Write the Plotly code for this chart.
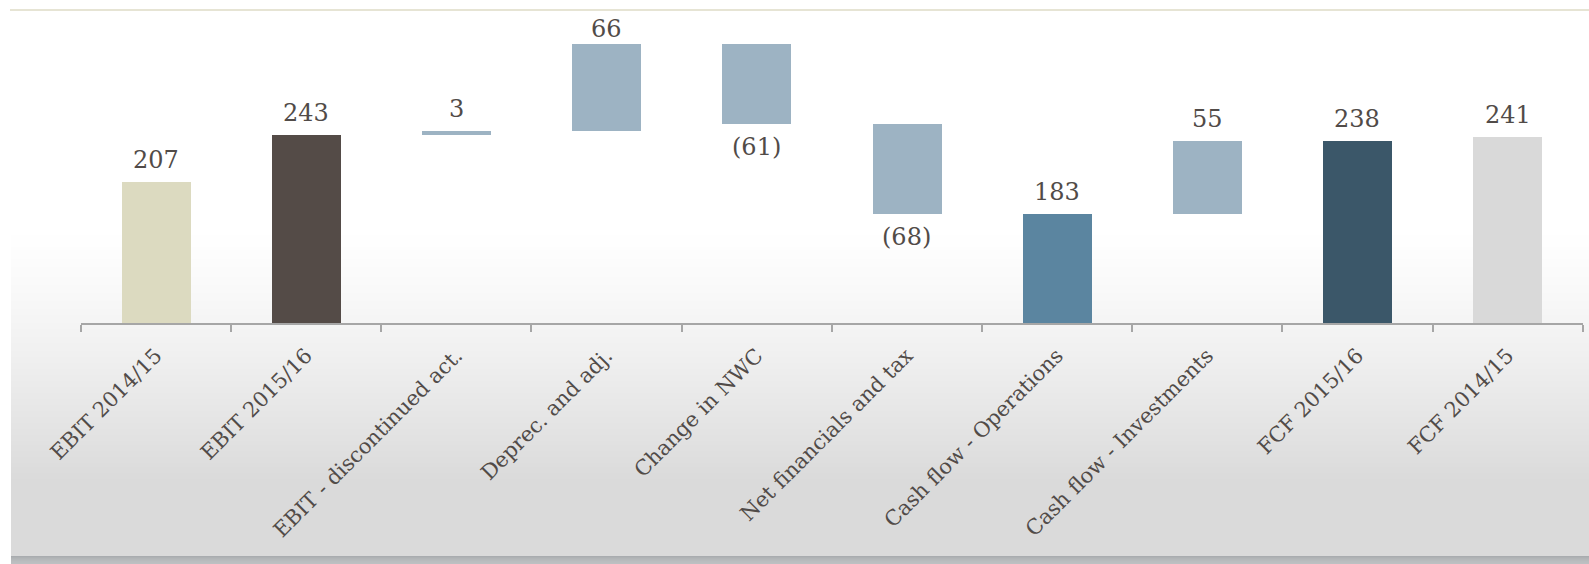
import plotly.graph_objects as go

# Cash-flow bridge: totals start at the axis floor, deltas float on the running level
categories = [
    "EBIT 2014/15",
    "EBIT 2015/16",
    "EBIT - discontinued act.",
    "Deprec. and adj.",
    "Change in NWC",
    "Net financials and tax",
    "Cash flow - Operations",
    "Cash flow - Investments",
    "FCF 2015/16",
    "FCF 2014/15",
]
values = [207, 243, 3, 66, -61, -68, 183, 55, 238, 241]
kinds = ["total", "total", "delta", "delta", "delta", "delta",
         "total", "delta", "total", "total"]
colors = ["#dcdac0", "#544b47", "#9db3c3", "#9db3c3", "#9db3c3", "#9db3c3",
          "#5b85a0", "#9db3c3", "#3b5769", "#d9d9d9"]

W, H = 1589, 564
Y_MIN, Y_MAX = 100, 337.7
PLOT_TOP, PLOT_BOTTOM = 10, 323
PX_PER_UNIT = (PLOT_BOTTOM - PLOT_TOP) / (Y_MAX - Y_MIN)
TEXT = "#514b48"
FONT = "DejaVu Serif"

bases, level = [], 0
for v, k in zip(values, kinds):
    if k == "total":
        bases.append(0)
        level = v
    else:
        bases.append(level)
        level += v

labels = [str(v) if v >= 0 else f"({abs(v)})" for v in values]

fig = go.Figure(
    go.Bar(
        x=categories,
        y=values,
        base=bases,
        width=0.46,
        marker=dict(color=colors, line=dict(width=0)),
        hoverinfo="skip",
    )
)

# value labels above the end of rising bars, below the end of falling bars;
# labels near the top are pulled down so they stay inside the panel
annotations = []
for cat, v, b, lab in zip(categories, values, bases, labels):
    end = b + v
    end_px = PLOT_TOP + (Y_MAX - end) * PX_PER_UNIT
    shift = min(6, end_px - 45) if v >= 0 else -7
    annotations.append(dict(
        x=cat, y=end, xref="x", yref="y", text=lab, showarrow=False,
        yanchor="bottom" if v >= 0 else "top",
        yshift=shift,
        font=dict(family=FONT, size=24, color=TEXT),
    ))

# panel background: white top fading to light grey, darker strip at the bottom
shapes = []
x0 = 11 / W
g0, g1 = 225, 480
shapes.append(dict(type="rect", xref="paper", yref="paper", x0=x0, x1=1,
                   y0=(H - g0) / H, y1=(H - PLOT_TOP) / H,
                   fillcolor="#ffffff", line=dict(width=0), layer="below"))
step = 2
for py in range(g0, g1, step):
    t = (py - g0) / (g1 - g0)
    c = int(round(255 - 37 * t ** 1.3))
    shapes.append(dict(type="rect", xref="paper", yref="paper", x0=x0, x1=1,
                       y0=(H - py - step) / H, y1=(H - py) / H,
                       fillcolor=f"rgb({c},{c},{c})", line=dict(width=0),
                       layer="below"))
shapes.append(dict(type="rect", xref="paper", yref="paper", x0=x0, x1=1,
                   y0=(H - 556) / H, y1=(H - g1) / H,
                   fillcolor="#dadada", line=dict(width=0), layer="below"))
band = ["#a9acaf", "#aeb1b3", "#b2b5b7", "#b5b8ba", "#b8babc", "#babdbf", "#bcbec0", "#bdc0c2"]
for i, col in enumerate(band):
    shapes.append(dict(type="rect", xref="paper", yref="paper", x0=x0, x1=1,
                       y0=(H - 557 - i) / H, y1=(H - 556 - i) / H,
                       fillcolor=col, line=dict(width=0), layer="below"))
# thin rule along the top of the panel
shapes.append(dict(type="line", xref="paper", yref="paper", x0=10 / W, x1=1,
                   y0=(H - PLOT_TOP) / H, y1=(H - PLOT_TOP) / H,
                   line=dict(color="#e6e4d4", width=2), layer="above"))

fig.update_layout(
    width=W,
    height=H,
    margin=dict(l=0, r=0, t=0, b=0, autoexpand=False),
    paper_bgcolor="#ffffff",
    plot_bgcolor="rgba(0,0,0,0)",
    showlegend=False,
    bargap=0,
    shapes=shapes,
    annotations=annotations,
    xaxis=dict(
        domain=[80.7 / W, 1582.7 / W],
        range=[-0.5, 9.5],
        type="category",
        automargin=False,
        showgrid=False,
        zeroline=False,
        showline=True,
        linecolor="#a6a6a6",
        linewidth=2,
        ticks="outside",
        tickson="boundaries",
        ticklen=7,
        tickwidth=2,
        tickcolor="#a6a6a6",
        tickangle=-45,
        ticklabelstandoff=10,
        tickfont=dict(family=FONT, size=21, color=TEXT),
    ),
    yaxis=dict(
        domain=[(H - PLOT_BOTTOM) / H, (H - PLOT_TOP) / H],
        range=[Y_MIN, Y_MAX],
        automargin=False,
        visible=False,
        showgrid=False,
        zeroline=False,
    ),
)

fig.write_html("out.html")
